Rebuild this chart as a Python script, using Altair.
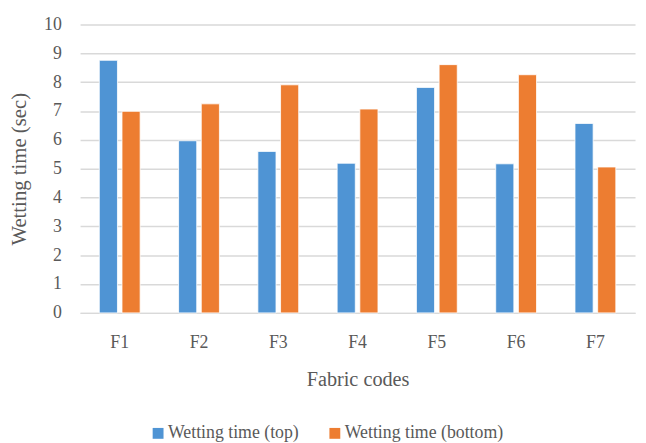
import altair as alt
import pandas as pd

codes = ["F1", "F2", "F3", "F4", "F5", "F6", "F7"]
top = [8.76, 5.97, 5.60, 5.19, 7.82, 5.17, 6.57]
bottom = [6.99, 7.25, 7.91, 7.07, 8.61, 8.26, 5.06]
series = ["Wetting time (top)", "Wetting time (bottom)"]
colors = ["#4F94D4", "#ED7D31"]

rows = []
for c, t, b in zip(codes, top, bottom):
    rows.append({"code": c, "series": series[0], "value": t})
    rows.append({"code": c, "series": series[1], "value": b})
df = pd.DataFrame(rows)

font = "'Liberation Serif', 'Times New Roman', 'DejaVu Serif', serif"
txt = "#595959"
grid = "#d9d9d9"

chart = alt.Chart(df).mark_bar(stroke="white", strokeWidth=0.8).encode(
    x=alt.X(
        "code:N", sort=codes,
        scale=alt.Scale(paddingInner=0.485, paddingOuter=0.2425),
        axis=alt.Axis(
            title="Fabric codes", labelAngle=0, ticks=False, tickSize=0,
            domain=True, domainColor=grid, domainWidth=1.5,
            labelPadding=21, labelFont=font, labelFontSize=18, labelColor=txt,
            titleFont=font, titleFontSize=20.5, titleColor=txt, titleFontWeight="normal",
            titleBaseline="alphabetic", titleY=74,
        ),
    ),
    xOffset=alt.XOffset("series:N", sort=series, scale=alt.Scale(paddingInner=0.2)),
    y=alt.Y(
        "value:Q",
        scale=alt.Scale(domain=[0, 10]),
        axis=alt.Axis(
            values=list(range(11)), title="Wetting time (sec)",
            ticks=False, tickSize=0, domain=False,
            gridColor=grid, gridWidth=1.5,
            labelPadding=19, labelFont=font, labelFontSize=18, labelColor=txt,
            titleFont=font, titleFontSize=21, titleColor=txt, titleFontWeight="normal",
            titleX=-61, titleY=146, titleAngle=270, titleBaseline="middle",
        ),
    ),
    color=alt.Color(
        "series:N", sort=series,
        scale=alt.Scale(domain=series, range=colors),
        legend=alt.Legend(
            title=None, orient="none", direction="horizontal",
            legendX=70, legendY=405,
            symbolType="square", symbolSize=121, symbolStrokeWidth=0,
            labelFont=font, labelFontSize=18, labelColor=txt, labelLimit=400,
            labelOffset=1, columnPadding=27,
        ),
    ),
).properties(
    width=562, height=292,
    padding={"left": 73, "top": 14, "right": 3, "bottom": 129},
    autosize=alt.AutoSizeParams(type="none"),
).configure_view(stroke=None)

chart.save("out.html", embed_options={"renderer": "svg", "actions": False})
